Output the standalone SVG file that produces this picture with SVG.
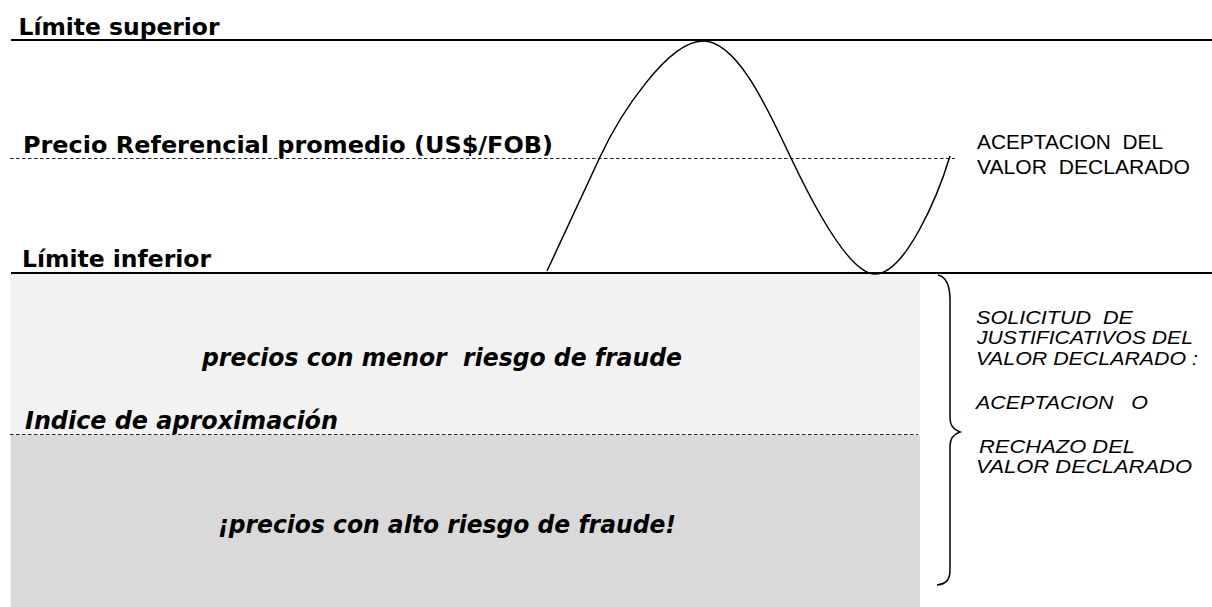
<svg xmlns="http://www.w3.org/2000/svg" width="1212" height="607" viewBox="0 0 1212 607">
<style>
.lbl{font-family:"DejaVu Sans",Verdana,sans-serif;font-weight:bold;font-size:23px;fill:#000}
.ital{font-family:"DejaVu Sans",Verdana,sans-serif;font-weight:bold;font-style:italic;font-size:24px;fill:#000}
.note{font-family:"Liberation Sans",Arial,sans-serif;font-size:20px;fill:#000}
.noteI{font-family:"Liberation Sans",Arial,sans-serif;font-style:italic;font-size:19px;fill:#000}
.solid{stroke:#000;stroke-width:2;fill:none}
.dash{stroke:#222;stroke-width:1;stroke-dasharray:3.5 2.5;fill:none}
.thin{stroke:#000;stroke-width:1.5;fill:none}
</style>
<rect width="1212" height="607" fill="#fff"/>
<g id="zone-low-risk">
<rect x="10.5" y="274" width="909.5" height="161" fill="#f2f2f2"/>
<text class="ital" x="202" y="366" textLength="480" lengthAdjust="spacingAndGlyphs" xml:space="preserve">precios con menor  riesgo de fraude</text>
</g>
<g id="zone-high-risk">
<rect x="10.5" y="435" width="909.5" height="172" fill="#d9d9d9"/>
<text class="ital" x="218" y="533" textLength="458" lengthAdjust="spacingAndGlyphs">¡precios con alto riesgo de fraude!</text>
</g>
<g id="connectors">
<line class="solid" x1="11" y1="40" x2="1212" y2="40"/>
<line class="solid" x1="11" y1="273" x2="1212" y2="273"/>
<line class="dash" x1="10" y1="158.5" x2="955" y2="158.5"/>
<line class="dash" x1="10" y1="434.5" x2="918" y2="434.5"/>
<path class="thin" d="M547,271 L600,157 C620,114 668,41 703,41 C738,41 769,112 791,158 C810,198 848,274 875,274 C905,274 938,196 950,156"/>
<path class="thin" d="M938,275 C947,277 950,288 950,300 L950,418 C950,426 954,430 960,432 C954,434 950,438 950,446 L950,570 C950,580 946,584 937,585"/>
</g>
<g id="limite-superior">
<text class="lbl" x="18.5" y="34.5" textLength="201" lengthAdjust="spacingAndGlyphs">Límite superior</text>
</g>
<g id="precio-referencial">
<text class="lbl" x="23" y="152.5" textLength="530" lengthAdjust="spacingAndGlyphs">Precio Referencial promedio (US$/FOB)</text>
</g>
<g id="limite-inferior">
<text class="lbl" x="22" y="267" textLength="189" lengthAdjust="spacingAndGlyphs">Límite inferior</text>
</g>
<g id="indice">
<text class="ital" x="25" y="429" textLength="313" lengthAdjust="spacingAndGlyphs">Indice de aproximación</text>
</g>
<g id="aceptacion">
<text class="note" x="977" y="148.5" textLength="186" lengthAdjust="spacingAndGlyphs" xml:space="preserve">ACEPTACION  DEL</text>
<text class="note" x="977" y="173.5" textLength="213" lengthAdjust="spacingAndGlyphs" xml:space="preserve">VALOR  DECLARADO</text>
</g>
<g id="solicitud">
<text class="noteI" x="976" y="323.5" textLength="157" lengthAdjust="spacingAndGlyphs" xml:space="preserve">SOLICITUD  DE</text>
<text class="noteI" x="977" y="344" textLength="216" lengthAdjust="spacingAndGlyphs">JUSTIFICATIVOS DEL</text>
<text class="noteI" x="976" y="364.5" textLength="222" lengthAdjust="spacingAndGlyphs">VALOR DECLARADO :</text>
<text class="noteI" x="976" y="409" textLength="172" lengthAdjust="spacingAndGlyphs" xml:space="preserve">ACEPTACION   O</text>
<text class="noteI" x="979" y="453" textLength="156" lengthAdjust="spacingAndGlyphs">RECHAZO DEL</text>
<text class="noteI" x="976" y="473" textLength="216" lengthAdjust="spacingAndGlyphs">VALOR DECLARADO</text>
</g>
</svg>
